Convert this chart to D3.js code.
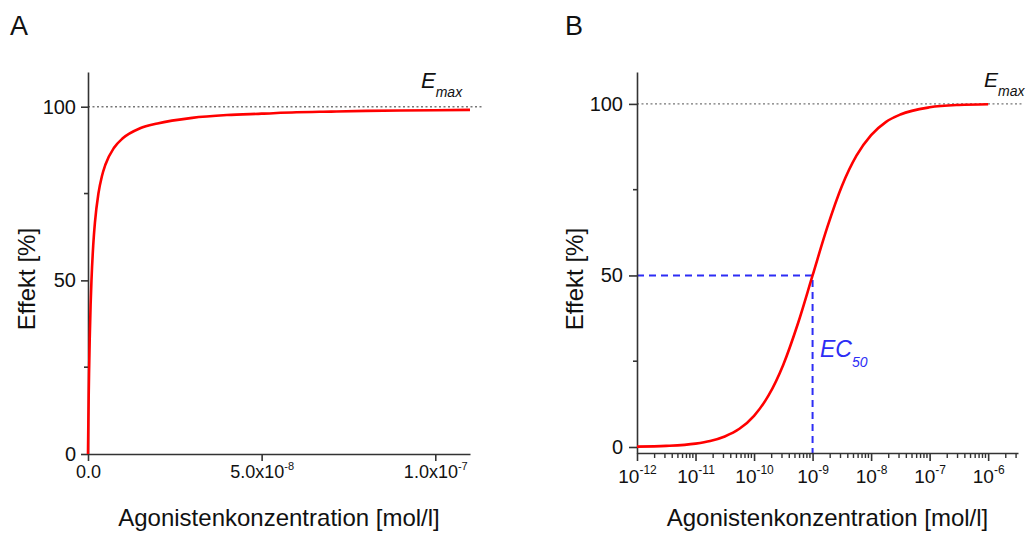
<!DOCTYPE html>
<html><head><meta charset="utf-8">
<script src="https://cdn.jsdelivr.net/npm/d3@7"></script>
<style>
html,body{margin:0;padding:0;background:#fff;}
svg{display:block;font-family:Arial,"Liberation Sans",Helvetica,sans-serif;}
</style></head>
<body>
<svg id="chart" width="1026" height="533"></svg>
<script>
// ---- data ----
// Panel A: linear concentration axis
const concA = [0, 1e-10, 2e-10, 3e-10, 5e-10, 7.5e-10, 1e-9, 1.5e-9, 2e-9, 3e-9, 4e-9, 5e-9, 7.5e-9, 1e-8, 1.5e-8, 2e-8, 3e-8, 4e-8, 5e-8, 6e-8, 7e-8, 8e-8, 9e-8, 1e-7, 1.1e-7];
const effA  = [0, 9.1, 16.7, 23.1, 33.3, 42.9, 50, 60, 66.7, 75, 80, 83.3, 88.2, 90.9, 93.8, 95.2, 96.8, 97.6, 98.0, 98.4, 98.6, 98.8, 98.9, 99.0, 99.1];
// Panel B: logarithmic concentration axis
const concB = [1e-12, 3.16e-12, 1e-11, 1.78e-11, 3.16e-11, 5.62e-11, 1e-10, 1.78e-10, 3.16e-10, 5.62e-10, 1e-9, 1.78e-9, 3.16e-9, 5.62e-9, 1e-8, 1.78e-8, 3.16e-8, 1e-7, 3.16e-7, 1e-6];
const effB  = [0.1, 0.32, 0.99, 1.75, 3.07, 5.3, 9.09, 15.1, 24.0, 36.0, 50, 64.0, 76.0, 84.9, 90.9, 94.7, 96.9, 99.0, 99.7, 99.9];
const emax = 100;
const ec50 = 1e-9;
const ec50Effect = 50;
// tick labels
const yTicks = [0, 50, 100];
const yMinorTicks = [25, 75];
const xTicksA = [0, 5e-8, 1e-7];
const xTickLabelsA = [["0.0", ""], ["5.0x10", "-8"], ["1.0x10", "-7"]];
const xTicksB = [1e-12, 1e-11, 1e-10, 1e-9, 1e-8, 1e-7, 1e-6];
const xTickLabelsB = [["10", "-12"], ["10", "-11"], ["10", "-10"], ["10", "-9"], ["10", "-8"], ["10", "-7"], ["10", "-6"]];
const xTitle = "Agonistenkonzentration [mol/l]";
const yTitle = "Effekt [%]";

const svg = d3.select("#chart");
const AX = "#333";
const RED = "#ff0000";
const BLUE = "#2d2df5";

function styleAxis(g){
  g.selectAll("path.domain").attr("stroke", AX).attr("stroke-width", 1.6);
  g.selectAll(".tick line").attr("stroke", AX).attr("stroke-width", 1.6);
}
function supLabels(g, labels, fs, sfs){
  g.selectAll(".tick text").each(function(d,i){
    const t = d3.select(this);
    t.text(null).attr("font-size", fs).attr("fill", "#111");
    t.append("tspan").text(labels[i][0]);
    if (labels[i][1]) t.append("tspan").attr("font-size", sfs).attr("dy", "-0.75em").text(labels[i][1]);
  });
}

// ================= Panel A =================
const xA = d3.scaleLinear().domain([0, 1.1e-7]).range([88, 470]);
const yA = d3.scaleLinear().domain([0, 110]).range([454, 72]);

svg.append("text").attr("x", 10).attr("y", 35).attr("font-size", 27).attr("fill", "#111").text("A");

// Emax dotted line
svg.append("line").attr("x1", xA(0)).attr("x2", xA.range()[1] + 14)
  .attr("y1", yA(emax)).attr("y2", yA(emax))
  .attr("stroke", "#777").attr("stroke-width", 1.3).attr("stroke-dasharray", "2,2.5");

const gyA = svg.append("g").attr("transform", `translate(${xA(0)},0)`)
  .call(d3.axisLeft(yA).tickValues(yTicks).tickSize(7).tickPadding(5).tickSizeOuter(0));
gyA.selectAll(".tick text").attr("font-size", 20).attr("fill", "#111");
gyA.selectAll(null).data(yMinorTicks).enter().append("line")
  .attr("x1", -4).attr("x2", 0).attr("y1", d => yA(d)).attr("y2", d => yA(d));
gyA.selectAll("line").filter(function(){return !this.parentNode.classList.contains("tick");})
  .attr("stroke", AX).attr("stroke-width", 1.6);
styleAxis(gyA);

const gxA = svg.append("g").attr("transform", `translate(0,${yA(0)})`)
  .call(d3.axisBottom(xA).tickValues(xTicksA).tickSize(7).tickPadding(4).tickSizeOuter(0));
supLabels(gxA, xTickLabelsA, 18, 11);
styleAxis(gxA);

svg.append("path").datum(concA.map((c,i) => [c, effA[i]]))
  .attr("fill", "none").attr("stroke", RED).attr("stroke-width", 2.6)
  .attr("d", d3.line().x(d => xA(d[0])).y(d => yA(d[1])).curve(d3.curveMonotoneX));

const eA = svg.append("text").attr("x", 421).attr("y", 88).attr("font-style", "italic").attr("font-size", 22).attr("fill", "#111");
eA.append("tspan").text("E");
eA.append("tspan").attr("font-size", 14).attr("dy", 9).text("max");

svg.append("text").attr("x", (xA.range()[0] + xA.range()[1]) / 2).attr("y", 526)
  .attr("text-anchor", "middle").attr("font-size", 24).attr("fill", "#111").text(xTitle);
svg.append("text").attr("transform", "translate(35,279) rotate(-90)")
  .attr("text-anchor", "middle").attr("font-size", 24).attr("fill", "#111").text(yTitle);

// ================= Panel B =================
const xB = d3.scaleLog().domain([1e-12, Math.pow(10, -5.49)]).range([637, 1018]);
const yB = d3.scaleLinear().domain([-1.75, 109.3]).range([453, 72]);

svg.append("text").attr("x", 565).attr("y", 35).attr("font-size", 27).attr("fill", "#111").text("B");

svg.append("line").attr("x1", xB.range()[0]).attr("x2", xB.range()[1] + 4)
  .attr("y1", yB(emax)).attr("y2", yB(emax))
  .attr("stroke", "#777").attr("stroke-width", 1.3).attr("stroke-dasharray", "2,2.5");

// EC50 dashed guides
svg.append("path")
  .attr("d", `M${xB.range()[0]},${yB(ec50Effect)}H${xB(ec50)}V${yB.range()[0]}`)
  .attr("fill", "none").attr("stroke", BLUE).attr("stroke-width", 2).attr("stroke-dasharray", "7,5");

const gyB = svg.append("g").attr("transform", `translate(${xB.range()[0]},0)`)
  .call(d3.axisLeft(yB).tickValues(yTicks).tickSize(8).tickPadding(6).tickSizeOuter(0));
gyB.selectAll(".tick text").attr("font-size", 20).attr("fill", "#111");
gyB.selectAll(null).data(yMinorTicks).enter().append("line")
  .attr("x1", -4).attr("x2", 0).attr("y1", d => yB(d)).attr("y2", d => yB(d));
gyB.selectAll("line").filter(function(){return !this.parentNode.classList.contains("tick");})
  .attr("stroke", AX).attr("stroke-width", 1.6);
styleAxis(gyB);

const gxB = svg.append("g").attr("transform", `translate(0,${yB.range()[0]})`)
  .call(d3.axisBottom(xB).tickValues(xTicksB).tickSize(8).tickPadding(9).tickSizeOuter(0));
supLabels(gxB, xTickLabelsB, 19, 12);
// minor log ticks
const minorB = xB.ticks().filter(v => Math.abs(Math.log10(v) - Math.round(Math.log10(v))) > 1e-6);
gxB.selectAll(null).data(minorB).enter().append("line")
  .attr("x1", d => xB(d)).attr("x2", d => xB(d)).attr("y1", 0).attr("y2", 5)
  .attr("stroke", AX).attr("stroke-width", 1.4);
styleAxis(gxB);

svg.append("path").datum(concB.map((c,i) => [c, effB[i]]))
  .attr("fill", "none").attr("stroke", RED).attr("stroke-width", 2.6)
  .attr("d", d3.line().x(d => xB(d[0])).y(d => yB(d[1])).curve(d3.curveMonotoneX));

const eB = svg.append("text").attr("x", 984).attr("y", 87).attr("font-style", "italic").attr("font-size", 21).attr("fill", "#111");
eB.append("tspan").text("E");
eB.append("tspan").attr("font-size", 14).attr("dy", 9).text("max");

const ecT = svg.append("text").attr("x", 820).attr("y", 357).attr("font-style", "italic").attr("font-size", 23).attr("fill", BLUE);
ecT.append("tspan").text("EC");
ecT.append("tspan").attr("font-size", 14).attr("dy", 10).text("50");

svg.append("text").attr("x", (xB.range()[0] + xB.range()[1]) / 2).attr("y", 526)
  .attr("text-anchor", "middle").attr("font-size", 24).attr("fill", "#111").text(xTitle);
svg.append("text").attr("transform", "translate(583,279) rotate(-90)")
  .attr("text-anchor", "middle").attr("font-size", 24).attr("fill", "#111").text(yTitle);
</script>
</body></html>
